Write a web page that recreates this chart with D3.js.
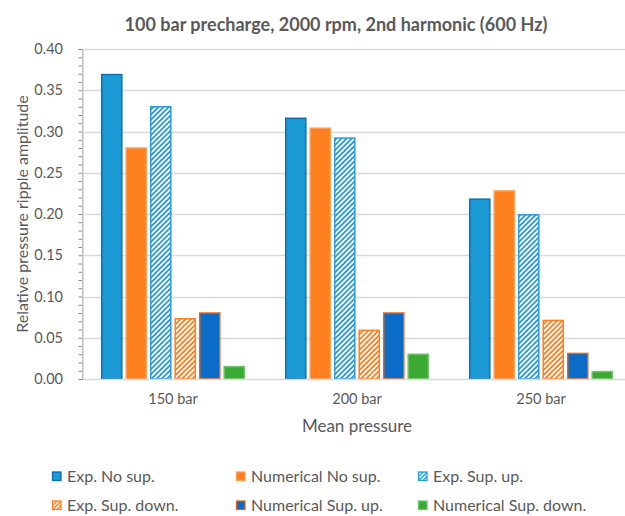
<!DOCTYPE html>
<html><head><meta charset="utf-8">
<script src="https://cdn.jsdelivr.net/npm/d3@7"></script>
<style>html,body{margin:0;padding:0;background:#fff;overflow:hidden}</style>
</head><body>
<script>
const categories = ["150 bar", "200 bar", "250 bar"];
const seriesNames = ["Exp. No sup.", "Numerical No sup.", "Exp. Sup. up.", "Exp. Sup. down.", "Numerical Sup. up.", "Numerical Sup. down."];
const expNoSup      = [0.369, 0.316, 0.218];
const numNoSup      = [0.280, 0.304, 0.228];
const expSupUp      = [0.330, 0.292, 0.199];
const expSupDown    = [0.073, 0.059, 0.071];
const numSupUp      = [0.080, 0.080, 0.031];
const numSupDown    = [0.015, 0.030, 0.009];
const yTicks = [0, 0.05, 0.10, 0.15, 0.20, 0.25, 0.30, 0.35, 0.40];
const title = "100 bar precharge, 2000 rpm, 2nd harmonic (600 Hz)";
const yTitle = "Relative pressure ripple amplitude";
const xTitle = "Mean pressure";

const seriesValues = [expNoSup, numNoSup, expSupUp, expSupDown, numSupUp, numSupDown];
const styles = [
  {fill:"#1b9ad6", stroke:"#0c6fb2"},
  {fill:"#fe7f1e", stroke:"#ff9d55"},
  {fill:"url(#hatchBlue)", stroke:"#2b9ad8", legendFill:"url(#hatchBlueL)"},
  {fill:"url(#hatchOrange)", stroke:"#fe7f1e", legendFill:"url(#hatchOrangeL)"},
  {fill:"#0a6cc6", stroke:"#e4661c"},
  {fill:"#3aaa35", stroke:"#6cc466"}
];

const W = 625, H = 516;
const svg = d3.select("body").append("svg").attr("width", W).attr("height", H)
  .style("font-family", "Lato, 'Open Sans', sans-serif");

const defs = svg.append("defs");
function hatch(id, color, size) {
  const p = defs.append("pattern").attr("id", id).attr("patternUnits", "userSpaceOnUse")
    .attr("width", size).attr("height", size).attr("patternTransform", "rotate(45)");
  p.append("rect").attr("width", size).attr("height", size).attr("fill", "#fff");
  p.append("rect").attr("x", 0).attr("y", 0).attr("width", size * 0.5).attr("height", size).attr("fill", color);
}
hatch("hatchBlue", "#2b9ad8", 3.6);
hatch("hatchOrange", "#fe7f1e", 3.6);
hatch("hatchBlueL", "#2b9ad8", 3.0);
hatch("hatchOrangeL", "#fe7f1e", 3.0);

const plotLeft = 82, plotRight = 633, yTop = 49, yBottom = 379;
const y = d3.scaleLinear().domain([0, 0.40]).range([yBottom, yTop]);
const x0 = d3.scaleBand().domain(categories).range([plotLeft - 1, plotRight]).padding(0);
const gw = x0.bandwidth();
const x1 = d3.scaleBand().domain(seriesNames).range([(gw - 147) / 2, (gw + 147) / 2])
  .paddingInner(0.18).paddingOuter(0.09);

// gridlines
svg.append("g").selectAll("line").data(yTicks.filter(d => d > 0)).join("line")
  .attr("x1", plotLeft).attr("x2", W).attr("y1", d => Math.round(y(d)) + 0.5).attr("y2", d => Math.round(y(d)) + 0.5)
  .attr("stroke", "#d9d9d9").attr("stroke-width", 1.3);

// bars
const groups = svg.append("g").selectAll("g").data(categories).join("g")
  .attr("transform", c => `translate(${x0(c)},0)`);
groups.selectAll("rect").data((c, ci) => seriesNames.map((s, si) => ({s, si, v: seriesValues[si][ci]})))
  .join("rect")
  .attr("x", d => x1(d.s))
  .attr("width", x1.bandwidth())
  .attr("y", d => y(d.v))
  .attr("height", d => y(0) - y(d.v))
  .attr("fill", d => styles[d.si].fill)
  .attr("stroke", d => styles[d.si].stroke)
  .attr("stroke-width", 1.5);

// x axis line
svg.append("line").attr("x1", plotLeft).attr("x2", W).attr("y1", yBottom + 0.5).attr("y2", yBottom + 0.5)
  .attr("stroke", "#d9d9d9").attr("stroke-width", 1.5);

// y axis with minor ticks
const yAxisG = svg.append("g").attr("transform", `translate(${plotLeft + 0.5},0)`);
yAxisG.call(d3.axisLeft(y).tickValues(d3.range(0, 0.4001, 0.01)).tickSize(4).tickFormat(""))
  .call(g => g.select(".domain").attr("stroke", "#bfbfbf"))
  .call(g => g.selectAll(".tick line").attr("stroke", "#8c8c8c"));
svg.append("line").attr("x1", plotLeft + 0.5).attr("x2", plotLeft + 0.5).attr("y1", yTop).attr("y2", yBottom)
  .attr("stroke", "#bfbfbf");
svg.append("g").selectAll("text").data(yTicks).join("text")
  .attr("x", 63).attr("y", d => y(d)).attr("dy", "0.35em").attr("text-anchor", "end")
  .attr("font-size", 14.5).attr("fill", "#595959").text(d => d3.format(".2f")(d));

// x labels
svg.append("g").selectAll("text").data(categories).join("text")
  .attr("x", c => x0(c) + gw / 2).attr("y", 399).attr("dy", "0.35em").attr("text-anchor", "middle")
  .attr("font-size", 14.5).attr("fill", "#595959").text(c => c);

// titles
svg.append("text").attr("x", 336).attr("y", 25).attr("dy", "0.35em").attr("text-anchor", "middle")
  .attr("font-size", 18).attr("font-weight", 700).attr("fill", "#595959").text(title);
svg.append("text").attr("transform", `translate(22,${(yTop + yBottom) / 2}) rotate(-90)`)
  .attr("dy", "0.35em").attr("text-anchor", "middle")
  .attr("font-size", 16).attr("fill", "#595959").text(yTitle);
svg.append("text").attr("x", 357).attr("y", 426).attr("dy", "0.35em").attr("text-anchor", "middle")
  .attr("font-size", 17).attr("fill", "#595959").text(xTitle);

// legend
const legX = [52, 236, 418], legY = [476, 505];
const leg = svg.append("g").selectAll("g").data(seriesNames).join("g")
  .attr("transform", (s, i) => `translate(${legX[i % 3]},${legY[Math.floor(i / 3)]})`);
leg.append("rect").attr("x", 0.5).attr("y", -4).attr("width", 8.5).attr("height", 8.5)
  .attr("fill", (s, i) => styles[i].legendFill || styles[i].fill)
  .attr("stroke", (s, i) => styles[i].stroke).attr("stroke-width", 1.3);
leg.append("text").attr("x", 15).attr("y", 0.5).attr("dy", "0.35em")
  .attr("font-size", 16).attr("fill", "#595959").text(s => s);
</script>
</body></html>
